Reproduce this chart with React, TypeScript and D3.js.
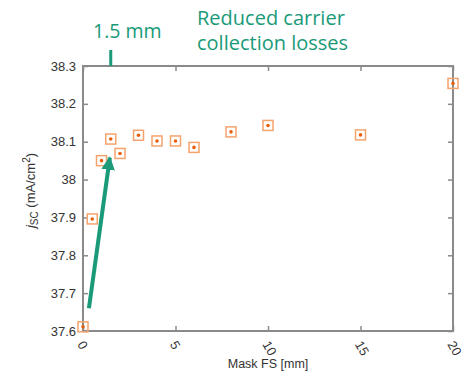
import React, { useEffect, useRef } from 'react';
import * as d3 from 'd3';

// Mask FS [mm] vs jSC (mA/cm2)
const maskFS = [0, 0.5, 1, 1.5, 2, 3, 4, 5, 6, 8, 10, 15, 20];
const jsc = [37.611, 37.896, 38.05, 38.107, 38.069, 38.117, 38.102, 38.102, 38.085, 38.126, 38.143, 38.118, 38.254];
const xTicks = [0, 5, 10, 15, 20];
const yTicks = [37.6, 37.7, 37.8, 37.9, 38, 38.1, 38.2, 38.3];
const arrowFrom = [0.32, 37.66];
const arrowTo = [1.45, 38.058];
const markerAt = 1.5;

const GREEN = '#1a9a78';
const AXIS = '#8a8a8a';

const App = () => {
  const ref = useRef<SVGSVGElement>(null);

  useEffect(() => {
    const svg = d3.select(ref.current);
    svg.selectAll('*').remove();

    const left = 83, right = 453, top = 66, bottom = 331;
    const x = d3.scaleLinear().domain([0, 20]).range([left, right]);
    const y = d3.scaleLinear().domain([37.6, 38.3]).range([bottom, top]);

    const font = '"Liberation Sans", Arial, sans-serif';

    // axes (ticks inward, mirrored)
    const tick = 5;
    svg.append('g')
      .attr('transform', `translate(0,${bottom})`)
      .call(d3.axisBottom(x).tickValues(xTicks).tickSize(-tick).tickFormat(() => ''))
      .call(g => g.select('.domain').remove());
    svg.append('g')
      .attr('transform', `translate(0,${top})`)
      .call(d3.axisTop(x).tickValues(xTicks).tickSize(-tick).tickFormat(() => ''))
      .call(g => g.select('.domain').remove());
    svg.append('g')
      .attr('transform', `translate(${left},0)`)
      .call(d3.axisLeft(y).tickValues(yTicks).tickSize(-tick).tickFormat(() => ''))
      .call(g => g.select('.domain').remove());
    svg.append('g')
      .attr('transform', `translate(${right},0)`)
      .call(d3.axisRight(y).tickValues(yTicks).tickSize(-tick).tickFormat(() => ''))
      .call(g => g.select('.domain').remove());
    svg.selectAll('.tick line').attr('stroke', AXIS).attr('stroke-width', 1.5);

    svg.append('rect')
      .attr('x', left).attr('y', top)
      .attr('width', right - left).attr('height', bottom - top)
      .attr('fill', 'none').attr('stroke', AXIS).attr('stroke-width', 2);

    // tick labels
    svg.selectAll('.ylab')
      .data(yTicks)
      .enter().append('text')
      .attr('x', left - 7)
      .attr('y', d => y(d))
      .attr('dy', '0.35em')
      .attr('text-anchor', 'end')
      .attr('font-family', font)
      .attr('font-size', 13)
      .attr('fill', '#333')
      .text(d => d3.format('')(+d.toFixed(1)));

    svg.selectAll('.xlab')
      .data(xTicks)
      .enter().append('text')
      .attr('transform', d => `translate(${x(d) - 2},${bottom + 11}) rotate(60)`)
      .attr('dy', '0.35em')
      .attr('text-anchor', 'start')
      .attr('font-family', font)
      .attr('font-size', 13)
      .attr('fill', '#333')
      .text(d => d);

    svg.append('text')
      .attr('x', (left + right) / 2)
      .attr('y', 368)
      .attr('text-anchor', 'middle')
      .attr('font-family', font)
      .attr('font-size', 12.5)
      .attr('fill', '#333')
      .text('Mask FS [mm]');

    // y label
    const yl = svg.append('text')
      .attr('transform', `translate(35,${(top + bottom) / 2 - 8}) rotate(-90)`)
      .attr('text-anchor', 'middle')
      .attr('font-family', font)
      .attr('font-size', 13)
      .attr('fill', '#333');
    yl.append('tspan').attr('font-style', 'italic').text('j');
    yl.append('tspan').attr('font-size', 10).attr('dy', 3).text('SC');
    yl.append('tspan').attr('dy', -3).text(' (mA/cm');
    yl.append('tspan').attr('font-size', 10).attr('dy', -5).text('2');
    yl.append('tspan').attr('dy', 5).text(')');

    // points
    const pts = maskFS.map((m, i) => ({ m, v: jsc[i] }));
    svg.selectAll('.box')
      .data(pts)
      .enter().append('rect')
      .attr('x', d => x(d.m) - 5)
      .attr('y', d => y(d.v) - 5)
      .attr('width', 10)
      .attr('height', 10)
      .attr('fill', 'none')
      .attr('stroke', '#f5a36c')
      .attr('stroke-width', 1.5);
    svg.selectAll('.dot')
      .data(pts)
      .enter().append('circle')
      .attr('cx', d => x(d.m))
      .attr('cy', d => y(d.v))
      .attr('r', 1.8)
      .attr('fill', '#e8600a');

    // annotations
    const defs = svg.append('defs');
    defs.append('marker')
      .attr('id', 'head')
      .attr('viewBox', '0 0 10 10')
      .attr('refX', 9).attr('refY', 5)
      .attr('markerWidth', 3.4).attr('markerHeight', 3.4)
      .attr('orient', 'auto')
      .append('path').attr('d', 'M0,0 L10,5 L0,10 z').attr('fill', GREEN);

    svg.append('line')
      .attr('x1', x(arrowFrom[0])).attr('y1', y(arrowFrom[1]))
      .attr('x2', x(arrowTo[0])).attr('y2', y(arrowTo[1]))
      .attr('stroke', GREEN).attr('stroke-width', 4)
      .attr('marker-end', 'url(#head)');

    svg.append('line')
      .attr('x1', x(markerAt)).attr('x2', x(markerAt))
      .attr('y1', top - 16).attr('y2', top)
      .attr('stroke', GREEN).attr('stroke-width', 3);

    const gfont = '"Open Sans", "Noto Sans", sans-serif';
    svg.append('text')
      .attr('x', 93).attr('y', 38)
      .attr('font-family', gfont).attr('font-size', 19.5)
      .attr('fill', GREEN)
      .text('1.5 mm');
    const t = svg.append('text')
      .attr('font-family', gfont).attr('font-size', 20)
      .attr('fill', GREEN);
    t.append('tspan').attr('x', 197).attr('y', 25).text('Reduced carrier');
    t.append('tspan').attr('x', 197).attr('y', 50).text('collection losses');
  }, []);

  return (
    <svg ref={ref} width={464} height={374}
      style={{ position: 'absolute', left: 0, top: 0, background: '#fff' }} />
  );
};

export default App;
